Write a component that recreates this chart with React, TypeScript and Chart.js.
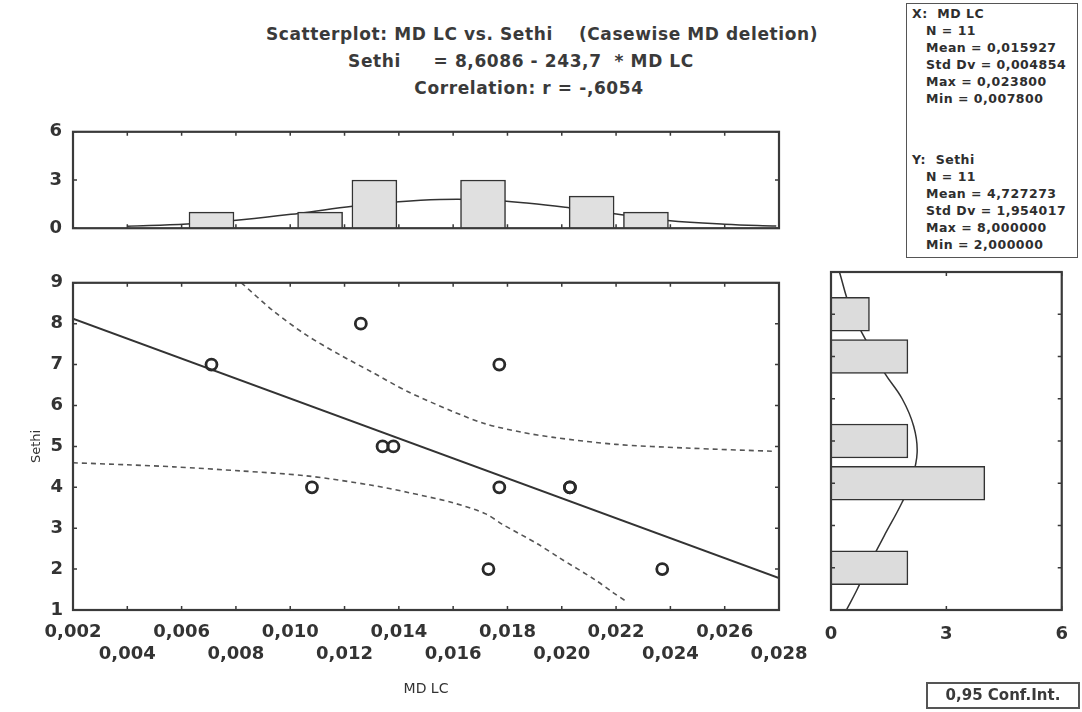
import React, { useEffect, useRef } from "react";
import { Chart, registerables } from "chart.js";
Chart.register(...registerables);

// ---- scatter data ----
const mdLc = [0.0071, 0.0126, 0.0108, 0.0134, 0.0138, 0.0177, 0.0177, 0.0203, 0.0203, 0.0173, 0.0237];
const sethi = [7, 8, 4, 5, 5, 7, 4, 4, 4, 2, 2];

// regression line (Sethi = 8,6086 - 243,7 * MD LC) end points
const regX = [0.002, 0.028];
const regY = [8.12, 1.78];

// 0.95 confidence band
const upperBandX = [0.0082, 0.0094, 0.0106, 0.0118, 0.013, 0.0143, 0.016, 0.0172, 0.0185, 0.0197, 0.022, 0.0246, 0.0278];
const upperBandY = [9.0, 8.3, 7.72, 7.25, 6.82, 6.35, 5.85, 5.55, 5.35, 5.22, 5.05, 4.96, 4.88];
const lowerBandX = [0.002, 0.004, 0.0057, 0.0082, 0.0106, 0.013, 0.0143, 0.016, 0.0172, 0.0178, 0.0191, 0.0199, 0.0212, 0.0219, 0.0224];
const lowerBandY = [4.6, 4.55, 4.5, 4.4, 4.28, 4.05, 3.88, 3.62, 3.35, 3.1, 2.62, 2.28, 1.75, 1.42, 1.2];

// axis ticks
const xTickValues = [0.002, 0.004, 0.006, 0.008, 0.01, 0.012, 0.014, 0.016, 0.018, 0.02, 0.022, 0.024, 0.026, 0.028];
const xTickLabels = ["0,002", "0,004", "0,006", "0,008", "0,010", "0,012", "0,014", "0,016", "0,018", "0,020", "0,022", "0,024", "0,026", "0,028"];
const yTickValues = [1, 2, 3, 4, 5, 6, 7, 8, 9];
const histTickValues = [0, 3, 6];

// ---- top histogram (MD LC) ----
const topBinCenters = [0.0071, 0.0111, 0.0131, 0.0171, 0.0211, 0.0231];
const topCounts = [1, 1, 3, 3, 2, 1];
const topCurveX = [0.004, 0.0062, 0.0083, 0.0103, 0.0123, 0.014, 0.0155, 0.0171, 0.0188, 0.0203, 0.0222, 0.0239, 0.026, 0.0279];
const topCurveY = [0.12, 0.26, 0.54, 0.92, 1.36, 1.65, 1.79, 1.77, 1.55, 1.26, 0.83, 0.48, 0.25, 0.13];

// ---- right histogram (Sethi) ----
const rightBinValues = [8, 7, 5, 4, 2];
const rightCounts = [1, 2, 2, 4, 2];
const rightCurveCounts = [0.22, 0.5, 0.9, 1.4, 1.85, 2.15, 2.24, 2.1, 1.85, 1.38, 0.95, 0.66, 0.4];
const rightCurveValues = [9.0, 8.15, 7.4, 6.6, 6.0, 5.35, 4.73, 4.1, 3.55, 2.75, 2.0, 1.45, 1.0];

// ---- texts ----
const titleLines = [
  "Scatterplot: MD LC vs. Sethi    (Casewise MD deletion)",
  "Sethi     = 8,6086 - 243,7  * MD LC",
  "Correlation: r = -,6054",
];
const statsX = ["X:  MD LC", "N = 11", "Mean = 0,015927", "Std Dv = 0,004854", "Max = 0,023800", "Min = 0,007800"];
const statsY = ["Y:  Sethi", "N = 11", "Mean = 4,727273", "Std Dv = 1,954017", "Max = 8,000000", "Min = 2,000000"];
const confLabel = "0,95 Conf.Int.";

const FONT = '"DejaVu Sans", sans-serif';
const INK = "#333";
const tickFont = { family: FONT, size: 18, weight: "bold" as const };

const framePlugin = {
  id: "frame",
  afterDatasetsDraw(chart: any, _args: any, opts: any) {
    const { ctx, chartArea: a } = chart;
    ctx.save();
    ctx.strokeStyle = "#3a3a3a";
    ctx.lineWidth = 2.2;
    ctx.strokeRect(a.left, a.top, a.right - a.left, a.bottom - a.top);
    ctx.lineWidth = 1.5;
    const nub = 4;
    const xs = chart.scales.x;
    const ys = chart.scales.y;
    (opts.xNubs || []).forEach((v: number) => {
      const px = xs.getPixelForValue(v);
      ctx.beginPath();
      ctx.moveTo(px, a.bottom); ctx.lineTo(px, a.bottom - nub);
      ctx.moveTo(px, a.top); ctx.lineTo(px, a.top + nub);
      ctx.stroke();
    });
    (opts.yNubs || []).forEach((v: number) => {
      const py = ys.getPixelForValue(v);
      ctx.beginPath();
      ctx.moveTo(a.left, py); ctx.lineTo(a.left + nub, py);
      ctx.moveTo(a.right, py); ctx.lineTo(a.right - nub, py);
      ctx.stroke();
    });
    ctx.restore();
  },
};

export default function App() {
  const topRef = useRef<HTMLCanvasElement>(null);
  const mainRef = useRef<HTMLCanvasElement>(null);
  const rightRef = useRef<HTMLCanvasElement>(null);

  useEffect(() => {
    Chart.defaults.font.family = FONT;
    Chart.defaults.color = INK;

    const mainChart = new Chart(mainRef.current!, {
      type: "scatter",
      data: {
        datasets: [
          {
            label: "Sethi",
            data: mdLc.map((x, i) => ({ x, y: sethi[i] })),
            pointRadius: 5.5,
            pointBorderWidth: 2.8,
            pointBorderColor: "#2a2a2a",
            pointBackgroundColor: "rgba(0,0,0,0)",
            showLine: false,
          },
          {
            label: "fit",
            data: regX.map((x, i) => ({ x, y: regY[i] })),
            showLine: true,
            borderColor: INK,
            borderWidth: 2,
            pointRadius: 0,
          },
          {
            label: "upper",
            data: upperBandX.map((x, i) => ({ x, y: upperBandY[i] })),
            showLine: true,
            borderColor: "#555",
            borderWidth: 1.6,
            borderDash: [5, 4],
            pointRadius: 0,
            tension: 0.3,
          },
          {
            label: "lower",
            data: lowerBandX.map((x, i) => ({ x, y: lowerBandY[i] })),
            showLine: true,
            borderColor: "#555",
            borderWidth: 1.6,
            borderDash: [5, 4],
            pointRadius: 0,
            tension: 0.3,
          },
        ],
      },
      options: {
        animation: false,
        responsive: false,
        maintainAspectRatio: false,
        layout: { padding: { top: 10, right: 51, left: 0, bottom: 0 } },
        plugins: {
          legend: { display: false },
          tooltip: { enabled: false },
          frame: { xNubs: xTickValues, yNubs: yTickValues },
        } as any,
        scales: {
          x: {
            type: "linear",
            min: 0.002,
            max: 0.028,
            offset: false,
            afterBuildTicks: (s: any) => { s.ticks = xTickValues.map((value) => ({ value })); },
            afterFit: (s: any) => { s.height = 92; },
            ticks: {
              autoSkip: false,
              maxRotation: 0,
              minRotation: 0,
              padding: 12,
              font: tickFont,
              color: INK,
              callback: (_v: any, i: number) => (i % 2 === 0 ? xTickLabels[i] : ["", xTickLabels[i]]),
            },
            grid: { display: false, drawTicks: false },
            border: { display: false },
            title: { display: true, text: "MD LC", font: { family: FONT, size: 14 }, color: INK, padding: { top: 0, bottom: 4 } },
          },
          y: {
            type: "linear",
            min: 1,
            max: 9,
            afterBuildTicks: (s: any) => { s.ticks = yTickValues.map((value) => ({ value })); },
            afterFit: (s: any) => { s.width = 73; },
            ticks: { padding: 10, font: tickFont, color: INK, autoSkip: false },
            grid: { display: false, drawTicks: false },
            border: { display: false },
            title: { display: true, text: "Sethi", font: { family: FONT, size: 13 }, color: INK, padding: { top: 29, bottom: 0 } },
          },
        },
      },
      plugins: [framePlugin],
    } as any);

    const topChart = new Chart(topRef.current!, {
      type: "bar",
      data: {
        datasets: [
          {
            type: "bar",
            data: topBinCenters.map((x, i) => ({ x, y: topCounts[i] })),
            backgroundColor: "#e0e0e0",
            borderColor: INK,
            borderWidth: 1.5,
            barThickness: 45,
          },
          {
            type: "scatter",
            data: topCurveX.map((x, i) => ({ x, y: topCurveY[i] })),
            showLine: true,
            borderColor: INK,
            borderWidth: 1.5,
            pointRadius: 0,
            tension: 0.4,
          },
        ],
      },
      options: {
        animation: false,
        responsive: false,
        maintainAspectRatio: false,
        layout: { padding: { top: 11, right: 51, left: 0, bottom: 18 } },
        plugins: {
          legend: { display: false },
          tooltip: { enabled: false },
          frame: { xNubs: xTickValues, yNubs: histTickValues },
        } as any,
        scales: {
          x: { type: "linear", min: 0.002, max: 0.028, display: false, offset: false, grid: { display: false } },
          y: {
            type: "linear",
            min: 0,
            max: 6,
            afterBuildTicks: (s: any) => { s.ticks = histTickValues.map((value) => ({ value })); },
            afterFit: (s: any) => { s.width = 73; },
            ticks: { padding: 11, font: tickFont, color: INK },
            grid: { display: false, drawTicks: false },
            border: { display: false },
          },
        },
      },
      plugins: [framePlugin],
    } as any);

    const rightChart = new Chart(rightRef.current!, {
      type: "bar",
      data: {
        datasets: [
          {
            type: "bar",
            indexAxis: "y",
            data: rightBinValues.map((v, i) => ({ x: rightCounts[i], y: v })),
            backgroundColor: "#dcdcdc",
            borderColor: INK,
            borderWidth: 1.5,
            barThickness: 34,
          },
          {
            type: "scatter",
            data: rightCurveCounts.map((c, i) => ({ x: c, y: rightCurveValues[i] })),
            showLine: true,
            borderColor: INK,
            borderWidth: 1.5,
            pointRadius: 0,
            tension: 0.4,
          },
        ],
      },
      options: {
        animation: false,
        responsive: false,
        maintainAspectRatio: false,
        layout: { padding: { top: 10, right: 18, left: 31, bottom: 0 } },
        plugins: {
          legend: { display: false },
          tooltip: { enabled: false },
          frame: { xNubs: histTickValues, yNubs: yTickValues },
        } as any,
        scales: {
          x: {
            type: "linear",
            min: 0,
            max: 6,
            offset: false,
            afterBuildTicks: (s: any) => { s.ticks = histTickValues.map((value) => ({ value })); },
            afterFit: (s: any) => { s.height = 52; },
            ticks: { padding: 14, font: tickFont, color: INK, maxRotation: 0 },
            grid: { display: false, drawTicks: false, offset: false },
            border: { display: false },
          },
          y: { type: "linear", min: 1, max: 9, display: false, offset: false },
        },
      },
      plugins: [framePlugin],
    } as any);

    return () => {
      mainChart.destroy();
      topChart.destroy();
      rightChart.destroy();
    };
  }, []);

  const statLine = (t: string, i: number, top: number, header: boolean) => (
    <div
      key={top + "-" + i}
      style={{ position: "absolute", left: header ? 912 : 926, top: top + i * 17, whiteSpace: "pre", fontSize: 12.5, fontWeight: "bold", letterSpacing: 0.5, lineHeight: "14px", color: "#2e2e2e" }}
    >
      {t}
    </div>
  );

  const titleStyle: any = { position: "absolute", transform: "translateX(-50%)", whiteSpace: "pre", fontSize: 17, fontWeight: "bold", letterSpacing: 0.6, lineHeight: "20px", color: "#3a3a3a" };

  return (
    <div style={{ position: "absolute", left: 0, top: 0, width: 1082, height: 712, background: "#fff", overflow: "hidden", fontFamily: FONT, color: INK }}>
      <canvas ref={topRef} width={830} height={140} style={{ position: "absolute", left: 0, top: 110, width: 830, height: 140 }} />
      <canvas ref={mainRef} width={830} height={440} style={{ position: "absolute", left: 0, top: 262, width: 830, height: 440 }} />
      <canvas ref={rightRef} width={282} height={400} style={{ position: "absolute", left: 800, top: 262, width: 282, height: 400 }} />

      <div style={{ ...titleStyle, left: 542, top: 24 }}>{titleLines[0]}</div>
      <div style={{ ...titleStyle, left: 521, top: 51 }}>{titleLines[1]}</div>
      <div style={{ ...titleStyle, left: 529, top: 78 }}>{titleLines[2]}</div>

      <div style={{ position: "absolute", left: 906, top: 3, width: 172, height: 255, border: "1.5px solid #555", boxSizing: "border-box" }} />
      {statsX.map((t, i) => statLine(t, i, 7, i === 0))}
      {statsY.map((t, i) => statLine(t, i, 153, i === 0))}

      <div style={{ position: "absolute", left: 926, top: 682, width: 154, height: 27, border: "2px solid #555", boxSizing: "border-box", fontSize: 15, fontWeight: "bold", lineHeight: "23px", textAlign: "center", whiteSpace: "pre", color: "#3a3a3a" }}>{confLabel}</div>
    </div>
  );
}
